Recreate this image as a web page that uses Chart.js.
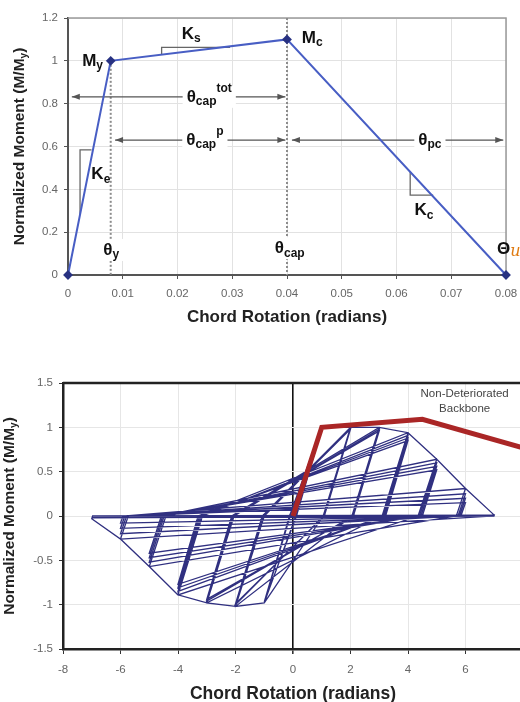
<!DOCTYPE html>
<html>
<head>
<meta charset="utf-8">
<script src="https://cdn.jsdelivr.net/npm/chart.js@4.4.1/dist/chart.umd.min.js"></script>
<style>
  html, body { margin: 0; padding: 0; background: #fff; overflow: hidden; width: 520px; height: 702px; }
  #backbone { position: absolute; left: 0; top: 0; }
  #hysteresis { position: absolute; left: 0; top: 345px; }
</style>
</head>
<body>
<canvas id="backbone" width="520" height="335"></canvas>
<canvas id="hysteresis" width="540" height="365"></canvas>
<script>
// --- data: backbone curve (top) ---
const backboneRotation = [0, 0.0078, 0.04, 0.08];
const backboneMoment = [0, 1.0, 1.1, 0];
const topXTicks = [0, 0.01, 0.02, 0.03, 0.04, 0.05, 0.06, 0.07, 0.08];
const topYTicks = [0, 0.2, 0.4, 0.6, 0.8, 1, 1.2];

// --- data: cyclic response (bottom) ---
const envelopeRotation = [0, 1, 4.5, 8];
const envelopeMoment = [0, 1.0, 1.09, 0.77];
const hystRotation = [
  0, 1, 0.1, -1, -0.1, 1, 0.12, -1, -0.12,
  1, 2, 1.05, -1, -2, -1.0, 2, 1.07, -2, -1.04, 2, 1.09, -2, -1.07,
  2, 3, 2.05, -2, -3, -2.05, 3, 2.08, -3, -2.1, 3, 2.1, -3, -2.13,
  3, 4, 3.1, -3, -4, -3.15, 4, 3.14, -4, -3.2, 4, 3.18, -4, -3.25, 4, 3.22, -4, -3.3,
  4, 5, 4.35, -4, -5, -4.42, 5, 4.4, -5, -4.48, 5, 4.45, -5, -4.53, 5, 4.5, -5, -4.58,
  5, 6, 5.68, -5, -6, -5.73, 6, 5.74, -6, -5.79, 6, 5.79, -6, -5.85, 6, 5.84, -6, -5.91,
  6, 7, 6.99, -6, -7, -6.97, 7, 6.99, -7
];
const hystMoment = [
  0, 1.0, 0, -0.98, 0, 0.99, 0, -0.97, 0,
  1.0, 1.0, 0, -0.98, -1.02, 0, 0.99, 0, -1.0, 0, 0.98, 0, -0.99, 0,
  1.0, 1.0, 0, -1.02, -0.98, 0, 0.98, 0, -0.96, 0, 0.96, 0, -0.94, 0,
  1.0, 0.94, 0, -0.98, -0.89, 0, 0.91, 0, -0.85, 0, 0.88, 0, -0.81, 0, 0.85, 0, -0.77, 0,
  0.94, 0.64, 0, -0.89, -0.57, 0, 0.6, 0, -0.52, 0, 0.56, 0, -0.47, 0, 0.52, 0, -0.42, 0,
  0.64, 0.31, 0, -0.57, -0.26, 0, 0.25, 0, -0.2, 0, 0.2, 0, -0.14, 0, 0.15, 0, -0.08, 0,
  0.31, 0.01, 0, -0.26, -0.03, 0, 0.01, 0, -0.02
];
const bottomXTicks = [-8, -6, -4, -2, 0, 2, 4, 6, 8];
const bottomYTicks = [-1.5, -1, -0.5, 0, 0.5, 1, 1.5];

const FONT = '"Liberation Sans", Arial, sans-serif';
Chart.defaults.font.family = FONT;
const LBL = 'bold 17px ' + FONT;
const SML = 'bold 12px ' + FONT;

function toPoints(xs, ys) {
  return xs.map((x, i) => ({ x: x, y: ys[i] }));
}

// draws text made of pieces (base, subscript, superscript)
function drawRich(ctx, x, y, parts, align, bg) {
  let w = 0;
  parts.forEach(p => { ctx.font = p.f; p.w = ctx.measureText(p.t).width; w += p.w; });
  let cx = align === 'left' ? x : align === 'right' ? x - w : x - w / 2;
  if (bg) {
    ctx.fillStyle = '#fff';
    ctx.fillRect(cx - 4, y - 11, w + 8, 22);
  }
  ctx.textBaseline = 'middle';
  ctx.textAlign = 'left';
  parts.forEach(p => {
    ctx.font = p.f;
    ctx.fillStyle = p.c || '#111';
    ctx.fillText(p.t, cx, y + (p.dy || 0));
    cx += p.w;
  });
}

function drawYTitle(chart, cx) {
  const { ctx, chartArea: a } = chart;
  ctx.save();
  ctx.translate(cx, (a.top + a.bottom) / 2);
  ctx.rotate(-Math.PI / 2);
  drawRich(ctx, 0, 0, [
    { t: 'Normalized Moment (M/M', f: 'bold 15.5px ' + FONT, c: '#222' },
    { t: 'y', f: 'bold 10px ' + FONT, dy: 4, c: '#222' },
    { t: ')', f: 'bold 15.5px ' + FONT, c: '#222' }
  ], 'center');
  ctx.restore();
}

function arrow(ctx, px1, px2, py) {
  ctx.beginPath();
  ctx.moveTo(px1, py);
  ctx.lineTo(px2, py);
  ctx.stroke();
  [[px1, 1], [px2, -1]].forEach(([px, d]) => {
    ctx.beginPath();
    ctx.moveTo(px, py);
    ctx.lineTo(px + d * 8, py - 3);
    ctx.lineTo(px + d * 8, py + 3);
    ctx.closePath();
    ctx.fill();
  });
}

// annotations of the backbone figure (data units)
const backboneNotes = {
  id: 'backboneNotes',
  beforeDatasetsDraw(chart) {
    const { ctx, chartArea: a, scales: { x, y } } = chart;
    ctx.save();
    ctx.strokeStyle = '#9a9a9a';
    ctx.lineWidth = 1.5;
    ctx.beginPath();
    ctx.moveTo(a.left, a.top);
    ctx.lineTo(a.right, a.top);
    ctx.lineTo(a.right, a.bottom);
    ctx.stroke();

    // dotted verticals at theta_y and theta_cap
    ctx.strokeStyle = '#8c8c8c';
    ctx.lineWidth = 2;
    ctx.setLineDash([2, 2]);
    [[0.0078, 1.0], [0.04, 1.2]].forEach(([vx, top]) => {
      ctx.beginPath();
      ctx.moveTo(x.getPixelForValue(vx), y.getPixelForValue(top));
      ctx.lineTo(x.getPixelForValue(vx), y.getPixelForValue(0));
      ctx.stroke();
    });
    ctx.setLineDash([]);

    // dimension arrows
    ctx.strokeStyle = '#555';
    ctx.fillStyle = '#555';
    ctx.lineWidth = 1.2;
    [[0.0007, 0.0397, 0.832], [0.0086, 0.0397, 0.63], [0.0409, 0.0795, 0.63]].forEach(([x1, x2, vy]) => {
      arrow(ctx, x.getPixelForValue(x1), x.getPixelForValue(x2), y.getPixelForValue(vy));
    });

    // stiffness triangles
    ctx.strokeStyle = '#666';
    ctx.lineWidth = 1.3;
    [
      [[0.0022, 0.28], [0.0022, 0.584], [0.0043, 0.584]],
      [[0.0171, 1.029], [0.0171, 1.063], [0.0296, 1.063]],
      [[0.0625, 0.481], [0.0625, 0.373], [0.0667, 0.373]]
    ].forEach(tri => {
      ctx.beginPath();
      tri.forEach(([tx, ty], i) => {
        const px = x.getPixelForValue(tx), py = y.getPixelForValue(ty);
        i ? ctx.lineTo(px, py) : ctx.moveTo(px, py);
      });
      ctx.stroke();
    });
    ctx.restore();
  },
  afterDatasetsDraw(chart) {
    const { ctx, scales: { x, y } } = chart;
    const P = (vx, vy) => [x.getPixelForValue(vx), y.getPixelForValue(vy)];
    ctx.save();
    let p;
    p = P(0.0064, 1.0);
    drawRich(ctx, p[0], p[1], [{ t: 'M', f: LBL }, { t: 'y', f: SML, dy: 5 }], 'right');
    p = P(0.0225, 1.125);
    drawRich(ctx, p[0], p[1], [{ t: 'K', f: LBL }, { t: 's', f: SML, dy: 5 }], 'center');
    p = P(0.0427, 1.106);
    drawRich(ctx, p[0], p[1], [{ t: 'M', f: LBL }, { t: 'c', f: SML, dy: 5 }], 'left');
    p = P(0.006, 0.47);
    drawRich(ctx, p[0], p[1], [{ t: 'K', f: LBL }, { t: 'e', f: SML, dy: 5 }], 'center');
    p = P(0.0258, 0.832);
    drawRich(ctx, p[0], p[1], [{ t: 'θ', f: LBL }, { t: 'cap', f: SML, dy: 5 }, { t: 'tot', f: SML, dy: -8 }], 'center', true);
    p = P(0.025, 0.63);
    drawRich(ctx, p[0], p[1], [{ t: 'θ', f: LBL }, { t: 'cap', f: SML, dy: 5 }, { t: 'p', f: SML, dy: -8 }], 'center', true);
    p = P(0.0661, 0.63);
    drawRich(ctx, p[0], p[1], [{ t: 'θ', f: LBL }, { t: 'pc', f: SML, dy: 5 }], 'center', true);
    p = P(0.0079, 0.117);
    drawRich(ctx, p[0], p[1], [{ t: 'θ', f: LBL }, { t: 'y', f: SML, dy: 5 }], 'center', true);
    p = P(0.0405, 0.125);
    drawRich(ctx, p[0], p[1], [{ t: 'θ', f: LBL }, { t: 'cap', f: SML, dy: 5 }], 'center', true);
    p = P(0.065, 0.30);
    drawRich(ctx, p[0], p[1], [{ t: 'K', f: LBL }, { t: 'c', f: SML, dy: 5 }], 'center');
    p = P(0.0805, 0.121);
    drawRich(ctx, p[0], p[1], [{ t: 'Θ', f: 'bold 17px ' + FONT }, { t: 'u', f: 'italic 16px "DejaVu Serif", serif', c: '#e07b12', dy: 3 }], 'center');
    ctx.restore();
  },
  afterDraw(chart) {
    drawYTitle(chart, 20);
  }
};

const hysteresisNotes = {
  id: 'hysteresisNotes',
  afterDraw(chart) {
    const { ctx, chartArea: a, scales: { x, y } } = chart;
    ctx.save();
    ctx.strokeStyle = '#222';
    ctx.lineWidth = 2.5;
    ctx.beginPath();
    ctx.moveTo(a.left, a.top);
    ctx.lineTo(a.right, a.top);
    ctx.stroke();
    ctx.font = '11.5px ' + FONT;
    ctx.fillStyle = '#444';
    ctx.textAlign = 'center';
    ctx.textBaseline = 'middle';
    ctx.fillText('Non-Deteriorated', x.getPixelForValue(5.97), y.getPixelForValue(1.374));
    ctx.fillText('Backbone', x.getPixelForValue(5.97), y.getPixelForValue(1.205));
    ctx.restore();
    drawYTitle(chart, 10);
  }
};

function tickList(arr) {
  return function (scale) { scale.ticks = arr.map(v => ({ value: v })); };
}

function fixWidth(w) {
  return function (scale) { scale.width = w; scale.paddingTop = 0; scale.paddingBottom = 0; };
}

function fixHeight(h) {
  return function (scale) { scale.height = h; scale.paddingLeft = 0; scale.paddingRight = 0; };
}

const tickFont = { size: 11.5, family: FONT };

new Chart(document.getElementById('backbone'), {
  type: 'scatter',
  data: {
    datasets: [{
      data: toPoints(backboneRotation, backboneMoment),
      showLine: true,
      borderColor: 'rgb(72, 94, 196)',
      borderWidth: 2,
      pointStyle: 'rectRot',
      pointRadius: 3.5,
      pointBackgroundColor: 'rgb(40, 50, 130)',
      pointBorderColor: 'rgb(40, 50, 130)',
      clip: false
    }]
  },
  options: {
    responsive: false,
    animation: false,
    devicePixelRatio: 1,
    layout: { padding: { top: 18, right: 14, left: 0, bottom: 0 } },
    plugins: { legend: { display: false }, tooltip: { enabled: false } },
    scales: {
      x: {
        min: 0, max: 0.08,
        afterBuildTicks: tickList(topXTicks),
        afterFit: fixHeight(60),
        grid: { color: '#e2e2e2', tickLength: 4, tickColor: '#555' },
        border: { color: '#555', width: 2 },
        ticks: { font: tickFont, color: '#666', padding: 8, maxRotation: 0, callback: v => String(v) },
        title: { display: true, text: 'Chord Rotation (radians)', font: { size: 17, weight: 'bold', family: FONT }, color: '#222', padding: { top: 0, bottom: 7 } }
      },
      y: {
        min: 0, max: 1.2,
        afterBuildTicks: tickList(topYTicks),
        afterFit: fixWidth(68),
        grid: { color: '#e2e2e2', tickLength: 4, tickColor: '#555' },
        border: { color: '#555', width: 2 },
        ticks: { font: tickFont, color: '#666', padding: 6, callback: v => String(v) }
      }
    }
  },
  plugins: [backboneNotes]
});

new Chart(document.getElementById('hysteresis'), {
  type: 'scatter',
  data: {
    datasets: [{
      data: toPoints(envelopeRotation, envelopeMoment),
      showLine: true,
      borderColor: 'rgb(170, 38, 38)',
      borderWidth: 5,
      pointRadius: 0,
      borderJoinStyle: 'miter'
    }, {
      data: toPoints(hystRotation, hystMoment),
      showLine: true,
      borderColor: 'rgb(48, 48, 128)',
      borderWidth: 1.3,
      pointRadius: 0
    }]
  },
  options: {
    responsive: false,
    animation: false,
    devicePixelRatio: 1,
    layout: { padding: { top: 38, right: 17, left: 0, bottom: 0 } },
    plugins: { legend: { display: false }, tooltip: { enabled: false } },
    scales: {
      x: {
        min: -8, max: 8,
        afterBuildTicks: tickList(bottomXTicks),
        afterFit: fixHeight(61),
        grid: {
          color: c => (c.tick && c.tick.value === 0 ? '#111' : '#e6e6e6'),
          lineWidth: c => (c.tick && c.tick.value === 0 ? 1.6 : 1),
          tickLength: 5, tickColor: '#333'
        },
        border: { color: '#222', width: 2.5 },
        ticks: { font: tickFont, color: '#666', padding: 9, maxRotation: 0, callback: v => String(v) },
        title: { display: true, text: 'Chord Rotation (radians)', font: { size: 17.5, weight: 'bold', family: FONT }, color: '#222', padding: { top: 0, bottom: 5 } }
      },
      y: {
        min: -1.5, max: 1.5,
        afterBuildTicks: tickList(bottomYTicks),
        afterFit: fixWidth(63),
        grid: { color: '#e6e6e6', tickLength: 4, tickColor: '#333' },
        border: { color: '#222', width: 2.5 },
        ticks: { font: tickFont, color: '#666', padding: 6, callback: v => String(v) }
      }
    }
  },
  plugins: [hysteresisNotes]
});
</script>
</body>
</html>
